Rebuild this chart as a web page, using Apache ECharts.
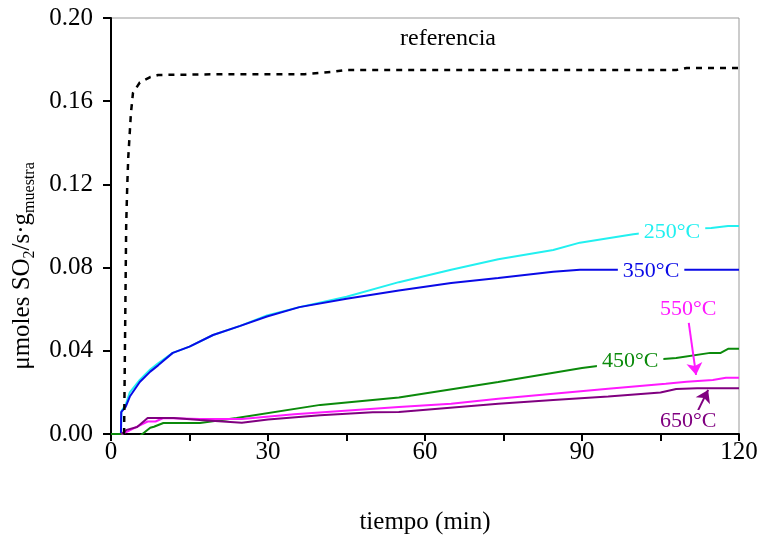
<!DOCTYPE html>
<html>
<head>
<meta charset="utf-8">
<script src="https://cdn.jsdelivr.net/npm/echarts@6/dist/echarts.min.js"></script>
<style>
  html, body { margin: 0; padding: 0; background: #fff; }
  #chart { width: 760px; height: 537px; }
</style>
</head>
<body>
<div id="chart"></div>
<script>
// tiempo (min), umoles SO2/s.g
var ref = [[2.5, 0], [2.7, 0.05], [2.9, 0.1], [3.1, 0.119], [3.3, 0.133], [3.8, 0.154], [4.2, 0.164],
  [5.5, 0.169], [7.5, 0.1716], [9, 0.1726], [22, 0.173], [37, 0.173], [42, 0.174], [45, 0.175],
  [80, 0.175], [108, 0.175], [110, 0.176], [120, 0.176]];
var t250 = [[1.9, 0], [2.0, 0.011], [2.8, 0.014], [3.6, 0.020], [5.5, 0.026], [7.5, 0.031], [9, 0.034],
  [11.8, 0.039], [15, 0.042], [19.5, 0.0476], [24.7, 0.052], [29.8, 0.057], [36, 0.061], [45, 0.066],
  [55, 0.073], [65, 0.079], [74, 0.084], [84.5, 0.0885], [89.6, 0.092], [99.8, 0.096], [108, 0.0985],
  [114.7, 0.099], [117.9, 0.1], [120, 0.1]];
var t350 = [[1.9, 0], [1.95, 0.0105], [2.8, 0.013], [3.6, 0.018], [5.5, 0.025], [7.5, 0.030], [9, 0.033],
  [11.8, 0.039], [15, 0.042], [19.5, 0.0476], [24.7, 0.052], [29.8, 0.0565], [36, 0.061], [45, 0.065],
  [55, 0.069], [65, 0.0726], [74, 0.075], [84.5, 0.078], [89.6, 0.079], [120, 0.079]];
var t450 = [[0, 0], [2, 0], [3.2, -0.004], [5.5, -0.001], [7.5, 0.003], [8.2, 0.0035], [10, 0.0053],
  [17, 0.0053], [24, 0.0077], [40, 0.014], [55, 0.0175], [74, 0.025], [90, 0.0317], [100, 0.035],
  [108, 0.0365], [114.5, 0.039], [116.5, 0.039], [118, 0.041], [120, 0.041]];
var t550 = [[2, 0], [3, 0.001], [5, 0.0035], [7, 0.006], [8.5, 0.006], [10, 0.0077], [17, 0.0072],
  [25, 0.0072], [35, 0.0095], [55, 0.013], [65, 0.0146], [74, 0.017], [84.5, 0.0194], [95, 0.0218],
  [106, 0.0242], [110, 0.0251], [115, 0.026], [117.5, 0.027], [120, 0.027]];
var t650 = [[2, 0], [3, 0.002], [5, 0.0034], [7, 0.0077], [12, 0.0077], [17, 0.0067], [25, 0.0054],
  [30, 0.007], [40, 0.009], [50, 0.0105], [55, 0.0106], [74, 0.0146], [84.5, 0.0163], [95, 0.018],
  [105, 0.020], [108, 0.0216], [112, 0.022], [120, 0.022]];

var xTicks = [0, 30, 60, 90, 120];
var yTicks = [0, 0.04, 0.08, 0.12, 0.16, 0.2];

var serif = '"Liberation Serif", "Times New Roman", serif';

// etiqueta sobre la curva (con fondo blanco que corta la linea)
function tag(text, x, y, color, size) {
  return {
    symbol: 'rect', symbolSize: 0,
    data: [{ coord: [x, y] }],
    label: {
      show: true, position: 'inside', formatter: text, color: color,
      fontSize: size || 22, fontFamily: serif, backgroundColor: '#fff', padding: [0, 5]
    }
  };
}

function serie(name, data, color, extra) {
  var s = {
    name: name, type: 'line', data: data, showSymbol: false, symbol: 'none',
    clip: true, lineStyle: { color: color, width: 2 }, z: 2
  };
  for (var k in extra) s[k] = extra[k];
  return s;
}

var chart = echarts.init(document.getElementById('chart'));
chart.setOption({
  backgroundColor: '#fff',
  animation: false,
  grid: {
    left: 111, right: 21, top: 18, bottom: 103, outerBoundsMode: 'none',
    show: true, borderColor: '#999', borderWidth: 1
  },
  xAxis: {
    type: 'value', min: 0, max: 120, interval: 15,
    name: 'tiempo (min)', nameLocation: 'middle', nameGap: 76,
    nameTextStyle: { fontSize: 25, fontFamily: serif, color: '#000' },
    axisLine: { show: true, onZero: false, lineStyle: { color: '#000', width: 2 } },
    axisTick: { show: true, inside: false, length: 7, lineStyle: { color: '#000', width: 2 } },
    axisLabel: {
      margin: 6, fontSize: 25, fontFamily: serif, color: '#000',
      formatter: function (v) { return xTicks.indexOf(v) >= 0 ? String(v) : ''; }
    },
    splitLine: { show: false }
  },
  yAxis: {
    type: 'value', min: 0, max: 0.2, interval: 0.04,
    name: '{a|μmoles SO}{s|2}{a|/s·g}{s|muestra}',
    nameLocation: 'middle', nameGap: 76,
    nameTextStyle: {
      color: '#000', padding: [0, 80, 0, 0],
      rich: {
        a: { fontSize: 25, fontFamily: serif, color: '#000', verticalAlign: 'top', lineHeight: 25 },
        s: { fontSize: 16, fontFamily: serif, color: '#000', verticalAlign: 'top', lineHeight: 16, padding: [12, 0, 0, 0] }
      }
    },
    axisLine: { show: true, lineStyle: { color: '#000', width: 2 } },
    axisTick: { show: true, inside: false, length: 8, lineStyle: { color: '#000', width: 2 } },
    axisLabel: {
      margin: 18, fontSize: 25, fontFamily: serif, color: '#000',
      formatter: function (v) { return v.toFixed(2); }
    },
    splitLine: { show: false }
  },
  series: [
    serie('250', t250, '#22f0f0', { markPoint: tag('250°C', 107.2, 0.0971, '#22f0f0') }),
    serie('350', t350, '#0a0ae6', { markPoint: tag('350°C', 103.2, 0.0784, '#0a0ae6') }),
    serie('450', t450, '#0b8a0b', { markPoint: tag('450°C', 99.2, 0.035, '#0b8a0b') }),
    serie('550', t550, '#ff1aff', {
      markPoint: tag('550°C', 110.3, 0.060, '#ff1aff'),
      markLine: {
        silent: true, symbol: ['none', 'arrow'], symbolSize: 12,
        lineStyle: { color: '#ff1aff', width: 2, type: 'solid' }, label: { show: false },
        data: [[{ coord: [110.4, 0.0534] }, { coord: [111.8, 0.0284] }]]
      }
    }),
    serie('650', t650, '#800080', {
      markPoint: tag('650°C', 110.3, 0.0063, '#800080'),
      markLine: {
        silent: true, symbol: ['none', 'arrow'], symbolSize: 12,
        lineStyle: { color: '#800080', width: 2, type: 'solid' }, label: { show: false },
        data: [[{ coord: [112.2, 0.0115] }, { coord: [114.1, 0.0212] }]]
      }
    }),
    serie('referencia', ref, '#000', {
      lineStyle: { color: '#000', width: 2.5, type: [6, 6] }, z: 3,
      markPoint: tag('referencia', 64.4, 0.190, '#000', 24)
    })
  ]
});
</script>
</body>
</html>
